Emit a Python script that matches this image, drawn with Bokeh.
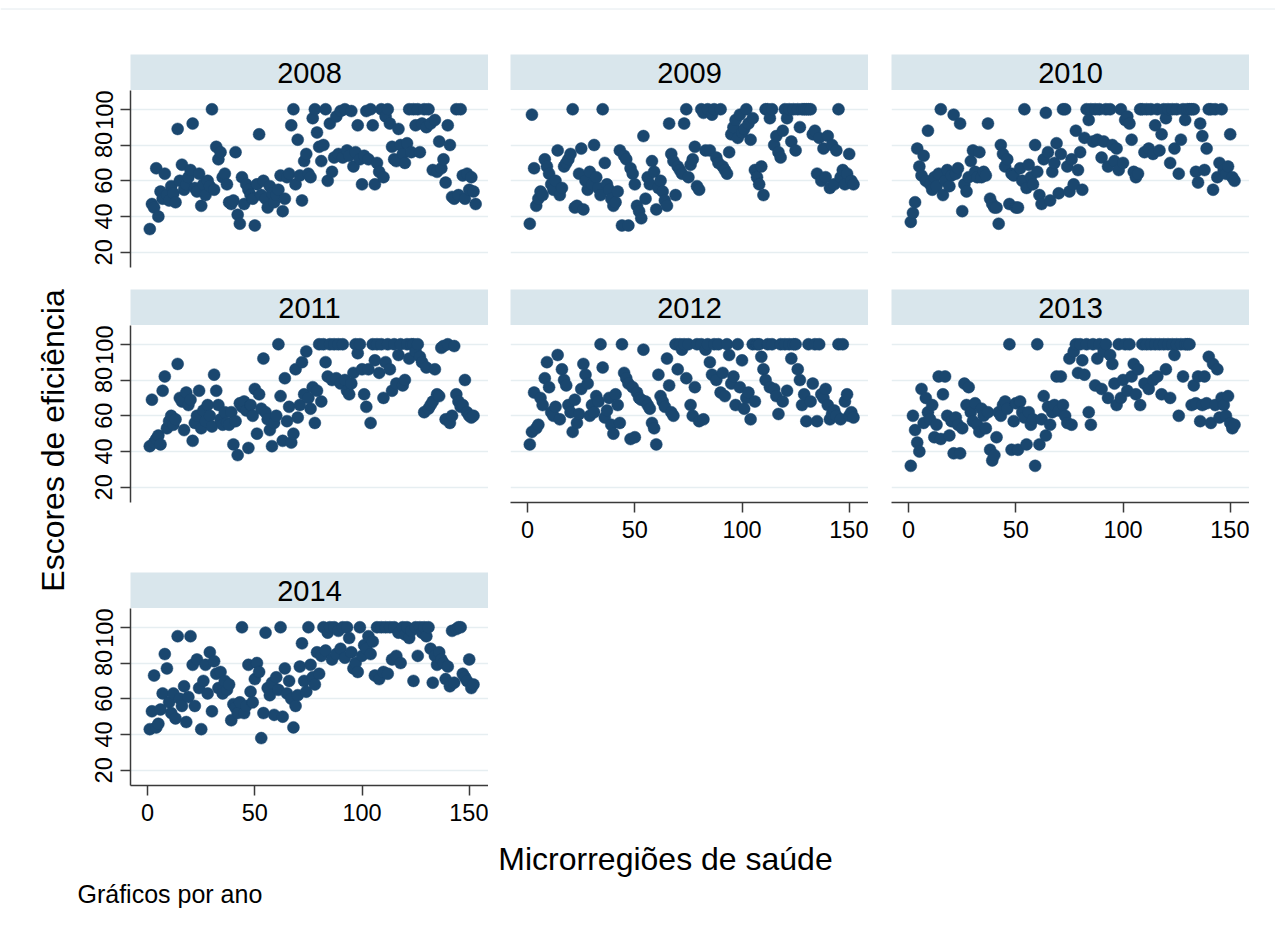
import numpy as np
from bokeh.plotting import figure
from bokeh.models import Range1d, LinearAxis, Grid, FixedTicker, Label, Span
from bokeh.layouts import row, column
from bokeh.embed import file_html
from bokeh.resources import INLINE

# ---------------- data ----------------
X_TICKS = [0, 50, 100, 150]
Y_TICKS = [20, 40, 60, 80, 100]
X_TITLE = "Microrregiões de saúde"
Y_TITLE = "Escores de eficiência"
NOTE = "Gráficos por ano"

Y2008 = [33, 47, 45, 67, 40, 54, 50, 64, 52, 49,
         57, 53, 48, 89, 60, 69, 55, 58, 62, 66,
         92, 56, 54, 64, 46, 58, 52, 60, 57, 100,
         55, 79, 72, 76, 62, 64, 58, 48, 47, 49,
         76, 41, 36, 62, 47, 58, 55, 52, 50, 35,
         58, 86, 52, 60, 50, 45, 57, 53, 48, 52,
         55, 63, 43, 50, 62, 64, 91, 100, 58, 83,
         63, 49, 71, 75, 64, 62, 95, 100, 87, 79,
         71, 80, 100, 60, 92, 65, 73, 96, 75, 99,
         73, 100, 77, 74, 99, 68, 76, 91, 72, 58,
         74, 99, 72, 100, 91, 58, 70, 65, 100, 62,
         96, 100, 92, 79, 72, 71, 89, 80, 75, 70,
         81, 100, 76, 100, 91, 100, 76, 92, 100, 90,
         100, 92, 66, 94, 65, 82, 67, 72, 59, 91,
         80, 51, 50, 100, 52, 100, 63, 50, 64, 55,
         62, 54, 47]

Y2009 = [36, 97, 67, 46, 50, 54, 52, 72, 68, 64,
         58, 55, 60, 77, 52, 56, 68, 70, 72, 75,
         100, 45, 46, 64, 78, 44, 60, 55, 65, 58,
         80, 62, 56, 52, 100, 70, 58, 55, 50, 46,
         48, 54, 77, 35, 74, 72, 35, 67, 64, 58,
         46, 43, 39, 85, 50, 62, 58, 71, 65, 44,
         56, 60, 54, 49, 46, 92, 75, 71, 52, 68,
         66, 64, 92, 100, 62, 69, 72, 79, 57, 55,
         100, 98, 77, 100, 77, 97, 100, 73, 70, 100,
         68, 66, 64, 76, 86, 90, 94, 84, 97, 87,
         89, 100, 92, 83, 95, 66, 62, 58, 68, 52,
         100, 100, 95, 100, 80, 85, 76, 73, 88, 100,
         95, 100, 82, 100, 77, 100, 90, 100, 100, 100,
         100, 100, 86, 88, 64, 84, 60, 78, 62, 85,
         56, 80, 58, 77, 100, 62, 66, 58, 64, 75,
         60, 58]

Y2010 = [37, 42, 48, 78, 68, 63, 74, 60, 88, 58,
         55, 62, 57, 64, 100, 52, 60, 66, 57, 63,
         97, 64, 67, 92, 43, 58, 54, 62, 71, 77,
         65, 62, 76, 62, 65, 63, 92, 50, 47, 45,
         45, 36, 80, 75, 68, 72, 47, 64, 63, 45,
         45, 67, 60, 100, 56, 69, 62, 58, 80, 65,
         52, 47, 72, 98, 76, 49, 65, 70, 81, 53,
         75, 100, 100, 68, 54, 72, 58, 88, 66, 76,
         55, 84, 100, 94, 100, 82, 100, 83, 100, 73,
         82, 100, 68, 100, 80, 71, 78, 66, 100, 70,
         94, 96, 92, 83, 65, 62, 64, 100, 100, 76,
         100, 78, 100, 75, 91, 100, 77, 86, 100, 95,
         100, 70, 100, 78, 100, 64, 83, 100, 94, 100,
         100, 100, 100, 65, 59, 92, 85, 66, 78, 100,
         100, 55, 100, 62, 70, 100, 66, 64, 68, 86,
         62, 60]

Y2011 = [43, 69, 45, 47, 49, 44, 74, 82, 53, 57,
         60, 55, 58, 89, 70, 68, 52, 73, 66, 69,
         46, 56, 60, 74, 53, 63, 57, 66, 60, 54,
         83, 74, 66, 58, 55, 62, 56, 55, 62, 44,
         57, 38, 67, 65, 68, 63, 42, 66, 60, 75,
         50, 72, 64, 92, 62, 58, 52, 43, 56, 60,
         100, 71, 46, 81, 57, 65, 45, 50, 86, 59,
         66, 90, 72, 96, 70, 64, 76, 56, 74, 100,
         68, 100, 90, 82, 100, 80, 100, 81, 100, 78,
         100, 80, 74, 72, 78, 84, 100, 95, 100, 86,
         72, 65, 86, 56, 100, 91, 100, 84, 100, 70,
         90, 100, 86, 74, 100, 78, 94, 100, 77, 80,
         100, 92, 100, 100, 96, 100, 93, 90, 62, 87,
         64, 66, 68, 86, 72, 71, 98, 99, 58, 100,
         56, 60, 99, 72, 68, 65, 66, 80, 62, 60,
         59, 60]

Y2012 = [44, 51, 73, 53, 55, 70, 66, 81, 90, 76,
         62, 60, 65, 94, 58, 86, 80, 77, 66, 62,
         51, 69, 56, 61, 75, 89, 83, 78, 60, 66,
         62, 71, 68, 100, 87, 59, 63, 70, 55, 50,
         72, 66, 56, 100, 84, 81, 78, 47, 76, 48,
         73, 70, 69, 97, 68, 66, 64, 56, 53, 44,
         83, 71, 68, 65, 92, 77, 62, 60, 100, 86,
         100, 97, 100, 81, 100, 66, 60, 76, 100, 57,
         100, 58, 97, 100, 90, 83, 100, 80, 100, 73,
         84, 71, 100, 94, 78, 82, 66, 100, 76, 91,
         64, 70, 73, 58, 100, 68, 100, 100, 93, 86,
         80, 100, 76, 100, 75, 71, 61, 100, 68, 100,
         74, 100, 92, 100, 100, 86, 80, 66, 72, 57,
         100, 68, 78, 100, 57, 100, 72, 70, 75, 66,
         58, 61, 63, 60, 100, 58, 100, 68, 72, 60,
         62, 59]

Y2013 = [32, 60, 52, 45, 40, 75, 56, 70, 62, 58,
         66, 48, 55, 82, 47, 72, 82, 60, 49, 57,
         39, 59, 55, 39, 53, 78, 66, 76, 62, 57,
         67, 55, 51, 64, 60, 53, 62, 41, 35, 38,
         48, 62, 60, 66, 68, 64, 100, 41, 57, 67,
         41, 68, 62, 59, 44, 62, 55, 58, 32, 100,
         44, 58, 71, 49, 65, 55, 62, 66, 82, 63,
         82, 66, 60, 56, 92, 55, 96, 100, 84, 100,
         91, 83, 100, 62, 55, 100, 77, 92, 100, 75,
         96, 100, 70, 94, 89, 78, 66, 100, 70, 80,
         100, 74, 100, 82, 89, 72, 86, 66, 100, 78,
         100, 75, 100, 80, 100, 82, 100, 72, 100, 86,
         100, 70, 100, 94, 100, 60, 100, 82, 100, 100,
         100, 66, 77, 67, 82, 57, 66, 82, 67, 93,
         56, 89, 66, 86, 59, 70, 66, 60, 71, 56,
         53, 55]

Y2014 = [43, 53, 73, 44, 46, 54, 63, 85, 77, 58,
         52, 63, 49, 95, 60, 56, 67, 47, 61, 95,
         79, 56, 82, 66, 43, 70, 79, 63, 86, 53,
         81, 74, 66, 75, 63, 70, 65, 68, 48, 57,
         55, 52, 58, 100, 52, 56, 79, 64, 58, 71,
         80, 75, 38, 52, 97, 66, 62, 69, 51, 72,
         65, 100, 50, 77, 63, 70, 60, 44, 56, 62,
         78, 91, 70, 64, 100, 79, 72, 68, 86, 74,
         84, 100, 87, 97, 100, 82, 100, 85, 98, 88,
         100, 83, 100, 94, 86, 77, 80, 75, 100, 84,
         90, 88, 95, 85, 92, 73, 100, 71, 100, 75,
         100, 74, 100, 82, 100, 84, 97, 80, 100, 96,
         100, 94, 98, 70, 100, 84, 100, 97, 100, 95,
         100, 88, 69, 84, 79, 86, 82, 80, 71, 78,
         67, 98, 69, 99, 100, 100, 74, 72, 70, 82,
         66, 68]

# ---------------- style ----------------
FONT = "Liberation Sans"
NAVY = "#1a476f"
HEADER_BG = "#d9e6ec"
GRID_C = "#e6eef1"
AXIS_C = "#3a3a3a"
FRAME_W = 358
HEAD_H = 36
FRAME_H = 177
LEFT_PAD = 78


def base_fig(**kw):
    p = figure(toolbar_location=None, tools="", output_backend="svg",
               x_axis_location=None, y_axis_location=None,
               outline_line_color=None, border_fill_color="white", **kw)
    p.grid.visible = False
    return p


def header(year, left):
    h = base_fig(frame_width=FRAME_W, frame_height=HEAD_H,
                 x_range=Range1d(0, 1), y_range=Range1d(0, 1),
                 min_border_left=left, min_border_right=0,
                 min_border_top=0, min_border_bottom=0,
                 background_fill_color=HEADER_BG)
    h.add_layout(Label(x=0.5, y=0.5, text=str(year), text_align="center",
                       text_baseline="middle", text_font=FONT,
                       text_font_size="29px", text_color="black"))
    return h


def style_axis(ax):
    ax.axis_line_color = AXIS_C
    ax.axis_line_width = 1.5
    ax.major_tick_line_color = AXIS_C
    ax.major_tick_line_width = 1.5
    ax.major_tick_out = 10
    ax.major_tick_in = 0
    ax.minor_tick_out = 0
    ax.minor_tick_in = 0
    ax.major_label_text_font = FONT
    ax.major_label_text_font_size = "23.5px"
    ax.major_label_text_color = "black"
    ax.major_label_standoff = 8


def panel(vals, left, bottom, show_y, show_x):
    p = base_fig(frame_width=FRAME_W, frame_height=FRAME_H,
                 x_range=Range1d(-8, 159), y_range=Range1d(11.5, 110.5),
                 min_border_left=left, min_border_right=0,
                 min_border_top=0, min_border_bottom=bottom,
                 background_fill_color="white")
    p.add_layout(Grid(dimension=1, ticker=FixedTicker(ticks=Y_TICKS),
                      grid_line_color=GRID_C, grid_line_width=1.5))
    if show_y:
        ya = LinearAxis(ticker=FixedTicker(ticks=Y_TICKS))
        style_axis(ya)
        ya.major_label_orientation = "vertical"
        p.add_layout(ya, "left")
    if show_x:
        xa = LinearAxis(ticker=FixedTicker(ticks=X_TICKS))
        style_axis(xa)
        p.add_layout(xa, "below")
    x = np.arange(1, len(vals) + 1)
    p.scatter(x, vals, marker="circle", size=12, fill_color=NAVY,
              line_color=NAVY, line_width=0.5)
    return p


col1 = column(header(2008, 52), panel(Y2008, 52, 22, True, False),
              header(2011, 52), panel(Y2011, 52, 70, True, False),
              header(2014, 52), panel(Y2014, 52, 50, True, True))
col2 = column(header(2009, 22), panel(Y2009, 22, 22, False, False),
              header(2012, 22), panel(Y2012, 22, 70, False, True))
col3 = column(header(2010, 23), panel(Y2010, 23, 22, False, False),
              header(2013, 23), panel(Y2013, 23, 70, False, True))

GRID_H = (HEAD_H + FRAME_H + 22) + (HEAD_H + FRAME_H + 70) + (HEAD_H + FRAME_H + 50)

ylab = base_fig(width=LEFT_PAD, height=GRID_H, x_range=Range1d(0, LEFT_PAD),
                y_range=Range1d(0, GRID_H), min_border_left=0,
                min_border_right=0, min_border_top=0, min_border_bottom=0)
ylab.add_layout(Label(x=52, y=GRID_H - 386, text=Y_TITLE, angle=np.pi / 2,
                      text_align="center", text_baseline="middle",
                      text_font=FONT, text_font_size="32px",
                      text_color="black"))

TOTAL_W = LEFT_PAD + 52 + FRAME_W + 22 + FRAME_W + 23 + FRAME_W

top = base_fig(width=1275, height=54, x_range=Range1d(0, 1),
               y_range=Range1d(0, 54), min_border_left=0,
               min_border_right=0, min_border_top=0, min_border_bottom=0)
top.add_layout(Span(location=45.5, dimension="width", line_color="#e3eaee",
                    line_width=1))

bottom = base_fig(width=TOTAL_W, height=80, x_range=Range1d(0, TOTAL_W),
                  y_range=Range1d(0, 80), min_border_left=0,
                  min_border_right=0, min_border_top=0, min_border_bottom=0)
bottom.add_layout(Label(x=665, y=57, text=X_TITLE, text_align="center",
                        text_baseline="middle", text_font=FONT,
                        text_font_size="32px", text_color="black"))
bottom.add_layout(Label(x=77, y=22, text=NOTE, text_align="left",
                        text_baseline="middle", text_font=FONT,
                        text_font_size="25px", text_color="black"))

layout = column(top, row(ylab, col1, col2, col3), bottom)

open("out.html", "w").write(file_html(layout, INLINE, title="Escores de eficiência"))
